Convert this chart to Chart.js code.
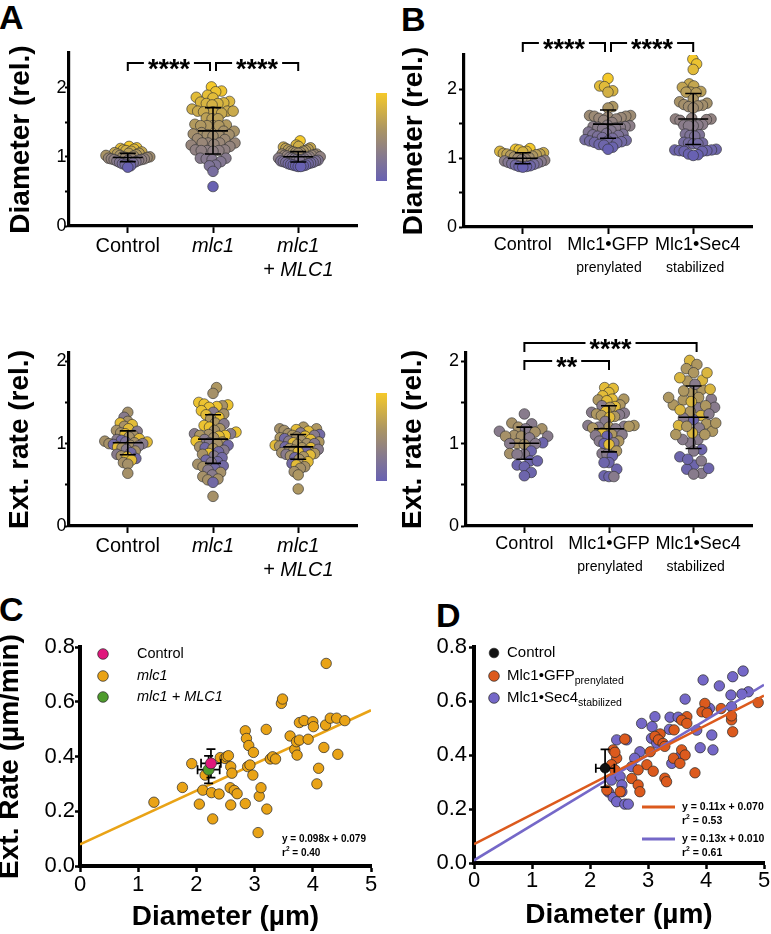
<!DOCTYPE html>
<html>
<head>
<meta charset="utf-8">
<title>Mlc1 diameter and extension rate</title>
<script src="https://cdn.jsdelivr.net/npm/chart.js@4.4.1/dist/chart.umd.min.js"></script>
<style>
  html, body { margin: 0; padding: 0; background: #ffffff; }
  body { position: relative; width: 771px; height: 934px; overflow: hidden; font-family: "Liberation Sans", Arial, sans-serif; }
  canvas { position: absolute; }
  .panel { position: absolute; font-weight: bold; font-size: 34px; line-height: 34px; color: #000; }
</style>
</head>
<body>
<div class="panel" style="left:-1px; top:0px;">A</div>
<div class="panel" style="left:401px; top:2px;">B</div>
<div class="panel" style="left:-1px; top:592px;">C</div>
<div class="panel" style="left:436px; top:598px;">D</div>
<canvas id="chartA1" width="390" height="290" style="left:0px; top:0px;"></canvas>
<canvas id="chartB1" width="381" height="290" style="left:390px; top:0px;"></canvas>
<canvas id="chartA2" width="390" height="290" style="left:0px; top:300px;"></canvas>
<canvas id="chartB2" width="381" height="290" style="left:390px; top:300px;"></canvas>
<canvas id="chartC" width="390" height="334" style="left:0px; top:600px;"></canvas>
<canvas id="chartD" width="381" height="334" style="left:390px; top:600px;"></canvas>
<script>
// ===================== DATA =====================
const catsA = [['Control'], ['mlc1'], ['mlc1', '+ MLC1']];
const italicA = [false, true, true];
const catsB = ['Control', 'Mlc1•GFP', 'Mlc1•Sec4'];
const subB = ['', 'prenylated', 'stabilized'];

// Panel A, top: diameter (rel.)
const diamA_control = [1.15, 1.13, 1.12, 1.11, 1.10, 1.09, 1.08, 1.07, 1.06, 1.05, 1.05, 1.04, 1.03, 1.02, 1.02, 1.01, 1.00, 1.00, 0.99, 0.99, 0.98, 0.98, 0.97, 0.97, 0.96, 0.96, 0.95, 0.95, 0.94, 0.93, 0.92, 0.91, 0.90, 0.89, 0.87, 0.85];
const diamA_mlc1 = [2.01, 1.95, 1.94, 1.89, 1.86, 1.85, 1.80, 1.79, 1.78, 1.77, 1.77, 1.75, 1.69, 1.66, 1.66, 1.66, 1.65, 1.65, 1.63, 1.56, 1.55, 1.55, 1.47, 1.46, 1.45, 1.45, 1.45, 1.45, 1.37, 1.37, 1.35, 1.33, 1.32, 1.32, 1.31, 1.30, 1.26, 1.25, 1.20, 1.20, 1.20, 1.20, 1.18, 1.17, 1.15, 1.10, 1.10, 1.09, 1.09, 1.09, 1.08, 0.98, 0.98, 0.97, 0.96, 0.93, 0.88, 0.87, 0.79, 0.57];
const diamA_rescue = [1.23, 1.17, 1.15, 1.14, 1.13, 1.12, 1.11, 1.10, 1.09, 1.08, 1.08, 1.07, 1.06, 1.06, 1.05, 1.04, 1.04, 1.03, 1.02, 1.02, 1.01, 1.00, 1.00, 0.99, 0.99, 0.98, 0.98, 0.97, 0.97, 0.96, 0.96, 0.95, 0.95, 0.94, 0.94, 0.93, 0.92, 0.92, 0.91, 0.90, 0.90, 0.89, 0.88, 0.88, 0.87, 0.87, 0.86, 0.86];
const diamA_mean = [0.99, 1.375, 1.00];
const diamA_sd = [0.06, 0.335, 0.075];

// Panel B, top: diameter (rel.)
const diamB_control = [1.14, 1.13, 1.12, 1.10, 1.10, 1.09, 1.08, 1.07, 1.06, 1.06, 1.05, 1.04, 1.03, 1.02, 1.01, 1.00, 0.99, 0.98, 0.97, 0.96, 0.95, 0.94, 0.93, 0.92, 0.91, 0.90, 0.89, 0.88, 0.88, 0.87];
const diamB_gfp = [2.16, 2.05, 2.04, 1.98, 1.96, 1.75, 1.73, 1.62, 1.62, 1.61, 1.61, 1.60, 1.59, 1.58, 1.57, 1.55, 1.52, 1.48, 1.47, 1.46, 1.46, 1.45, 1.45, 1.44, 1.43, 1.40, 1.38, 1.36, 1.35, 1.34, 1.33, 1.32, 1.30, 1.29, 1.27, 1.26, 1.25, 1.25, 1.24, 1.23, 1.22, 1.20, 1.19, 1.16, 1.13];
const diamB_sec4 = [2.44, 2.37, 2.29, 2.08, 2.05, 2.03, 1.97, 1.96, 1.96, 1.95, 1.86, 1.82, 1.80, 1.78, 1.77, 1.76, 1.75, 1.73, 1.58, 1.57, 1.57, 1.56, 1.55, 1.49, 1.48, 1.48, 1.47, 1.47, 1.35, 1.34, 1.33, 1.32, 1.23, 1.22, 1.22, 1.21, 1.21, 1.13, 1.12, 1.12, 1.11, 1.11, 1.10, 1.10, 1.06, 1.05, 1.04];
const diamB_mean = [1.00, 1.495, 1.57];
const diamB_sd = [0.08, 0.205, 0.37];

// Panel A, bottom: extension rate (rel.) and colour tone (0 = small cell, 1 = large cell)
const rateA_control = [1.38, 1.32, 1.27, 1.25, 1.23, 1.21, 1.18, 1.16, 1.15, 1.13, 1.12, 1.10, 1.08, 1.06, 1.05, 1.04, 1.03, 1.02, 1.02, 1.01, 1.00, 1.00, 0.99, 0.98, 0.97, 0.96, 0.95, 0.93, 0.91, 0.89, 0.87, 0.85, 0.84, 0.82, 0.80, 0.77, 0.75, 0.64];
const toneA_control = [.55, .3, .55, .9, .9, .55, .9, .55, .3, .55, .9, .55, .55, .9, .3, .1, .55, .2, .9, .55, .3, .55, .1, .55, .3, .9, .55, .3, .55, .1, .3, .55, .9, .1, .9, .55, .55, .55];
const rateA_mlc1 = [1.68, 1.61, 1.50, 1.48, 1.47, 1.46, 1.45, 1.44, 1.40, 1.38, 1.36, 1.35, 1.32, 1.30, 1.25, 1.24, 1.22, 1.20, 1.18, 1.16, 1.14, 1.12, 1.12, 1.11, 1.10, 1.10, 1.09, 1.07, 1.05, 1.03, 1.02, 1.01, 1.00, 0.98, 0.96, 0.95, 0.94, 0.92, 0.90, 0.88, 0.87, 0.85, 0.83, 0.80, 0.78, 0.77, 0.75, 0.73, 0.72, 0.70, 0.68, 0.65, 0.62, 0.60, 0.57, 0.56, 0.53, 0.36];
const toneA_mlc1 = [.6, .55, .95, .95, .95, .55, .95, .95, .95, .3, .55, .9, .95, .6, .6, .3, .95, .95, .6, .55, .95, .3, .3, .55, .95, .6, .9, .55, .3, .95, .6, .3, .55, .1, .55, .1, .6, .3, .1, .95, .55, .3, .1, .1, .1, .3, .55, .1, .55, .1, .3, .55, .3, .55, .55, .55, .1, .55];
const rateA_rescue = [1.20, 1.18, 1.18, 1.17, 1.16, 1.15, 1.13, 1.12, 1.11, 1.10, 1.10, 1.09, 1.08, 1.07, 1.06, 1.05, 1.04, 1.03, 1.02, 1.01, 1.00, 1.00, 0.99, 0.98, 0.97, 0.96, 0.95, 0.95, 0.94, 0.93, 0.92, 0.91, 0.90, 0.89, 0.88, 0.87, 0.86, 0.85, 0.84, 0.83, 0.81, 0.78, 0.76, 0.74, 0.72, 0.70, 0.66, 0.62, 0.45];
const toneA_rescue = [.6, .6, .55, .9, .55, .9, .3, .55, .1, .6, .3, .9, .55, .6, .1, .9, .55, .3, .6, .9, .55, .3, .6, .9, .55, .1, .6, .9, .55, .3, .6, .1, .9, .55, .6, .3, .9, .55, .6, .1, .55, .9, .1, .9, .55, .55, .55, .6, .6];
const rateA_mean = [1.01, 1.055, 0.96];
const rateA_sd = [0.145, 0.295, 0.15];

// Panel B, bottom: extension rate (rel.) and colour tone
const rateB_control = [1.36, 1.25, 1.24, 1.20, 1.18, 1.18, 1.15, 1.14, 1.10, 1.09, 1.09, 1.09, 1.07, 1.01, 1.00, 1.00, 1.00, 0.99, 0.91, 0.88, 0.87, 0.87, 0.79, 0.79, 0.74, 0.72, 0.65, 0.61];
const toneB_control = [.3, .55, .3, .55, .3, .55, .3, .55, .55, .55, .55, .3, .3, .05, .55, .3, .3, .55, .05, .55, .3, .3, .05, .05, .05, .05, .05, .05];
const rateB_gfp = [1.68, 1.67, 1.62, 1.58, 1.54, 1.54, 1.53, 1.52, 1.47, 1.46, 1.45, 1.44, 1.39, 1.38, 1.37, 1.36, 1.35, 1.34, 1.33, 1.32, 1.27, 1.22, 1.22, 1.21, 1.21, 1.20, 1.20, 1.19, 1.18, 1.13, 1.11, 1.11, 1.10, 1.09, 1.03, 1.03, 1.01, 1.00, 0.99, 0.91, 0.88, 0.87, 0.85, 0.77, 0.77, 0.69, 0.61, 0.60, 0.60];
const toneB_gfp = [.9, .9, .9, .9, .9, .6, .6, .9, .6, .3, .9, .6, .9, .3, .3, .6, .3, .6, .6, .9, .3, .3, .6, .3, .6, .6, .3, .6, .3, .9, .6, .3, .3, .05, .3, .6, .3, .05, .9, .6, .3, .3, .05, .05, .05, .05, .05, .05, .3];
const rateB_sec4 = [1.66, 1.54, 1.44, 1.34, 1.24, 1.15, 1.05, 0.64, 2.01, 1.91, 1.77, 1.62, 1.53, 1.44, 1.29, 1.19, 1.01, 0.84, 0.74, 1.96, 1.86, 1.76, 1.66, 1.56, 1.47, 1.39, 1.31, 1.22, 1.11, 0.93, 0.91, 0.79, 0.69, 1.86, 1.72, 1.56, 1.46, 1.36, 1.25, 1.13, 1.05, 0.81, 0.70, 1.80, 1.64, 1.51, 1.41, 1.21, 1.11, 0.63];
const toneB_sec4 = [.6, .3, .3, .85, .6, .6, .3, .3, .85, .6, .85, .6, .6, .3, .05, .3, .3, .05, .05, .6, .6, .6, .85, .6, .6, .6, .3, .85, .6, .05, .3, .3, .05, .85, .3, .6, .6, .3, .6, .85, .3, .05, .05, .85, .6, .85, .85, .6, .6, .3];
const rateB_mean = [1.005, 1.18, 1.32];
const rateB_sd = [0.195, 0.28, 0.38];

// Panel C: extension rate (µm/min) vs diameter (µm)
const mlc1C_x = [1.27, 1.76, 1.92, 2.05, 2.11, 2.15, 2.26, 2.28, 2.39, 2.41, 2.49, 2.52, 2.55, 2.58, 2.59, 2.59, 2.61, 2.65, 2.70, 2.84, 2.84, 2.86, 2.88, 2.90, 2.92, 2.97, 2.98, 3.06, 3.08, 3.11, 3.20, 3.21, 3.27, 3.31, 3.36, 3.46, 3.48, 3.61, 3.69, 3.72, 3.73, 3.77, 3.77, 3.85, 3.92, 4.00, 4.01, 4.07, 4.10, 4.19, 4.22, 4.23, 4.30, 4.41, 4.43, 4.55];
const mlc1C_y = [0.233, 0.287, 0.374, 0.226, 0.277, 0.332, 0.268, 0.172, 0.263, 0.396, 0.393, 0.399, 0.403, 0.286, 0.363, 0.223, 0.339, 0.276, 0.264, 0.494, 0.228, 0.466, 0.363, 0.440, 0.369, 0.332, 0.415, 0.122, 0.255, 0.286, 0.499, 0.208, 0.391, 0.399, 0.391, 0.594, 0.610, 0.475, 0.426, 0.454, 0.405, 0.460, 0.524, 0.531, 0.463, 0.527, 0.509, 0.300, 0.357, 0.433, 0.515, 0.740, 0.540, 0.540, 0.408, 0.531];
const sumC_labels = ['Control', 'mlc1 + MLC1'];
const sumC_x = [2.25, 2.21];
const sumC_y = [0.375, 0.352];
const sumC_xsd = [0.17, 0.19];
const sumC_ysd = [0.052, 0.05];
const fitC_m = [0.098];
const fitC_b = [0.079];
const fitC_r2 = [0.40];
const legendC = ['Control', 'mlc1', 'mlc1 + MLC1'];
const legendC_italic = [false, true, true];

// Panel D
const gfpD_x = [4.90, 3.98, 3.93, 4.02, 4.26, 4.44, 4.44, 4.46, 3.67, 3.58, 3.67, 3.45, 3.21, 3.12, 3.18, 3.26, 3.29, 2.60, 2.40, 3.04, 3.58, 3.64, 3.44, 3.55, 3.81, 2.46, 2.37, 2.43, 2.98, 2.83, 3.09, 2.72, 3.29, 3.32, 2.83, 2.86, 2.29, 2.52, 2.43];
const gfpD_y = [0.594, 0.591, 0.560, 0.555, 0.572, 0.530, 0.545, 0.486, 0.542, 0.529, 0.517, 0.493, 0.478, 0.469, 0.456, 0.443, 0.432, 0.459, 0.419, 0.412, 0.419, 0.400, 0.388, 0.369, 0.334, 0.388, 0.364, 0.345, 0.364, 0.345, 0.340, 0.313, 0.314, 0.301, 0.289, 0.264, 0.270, 0.264, 0.410];
const sec4D_x = [4.64, 4.46, 3.95, 4.23, 4.73, 4.62, 4.43, 3.64, 4.44, 4.06, 4.00, 3.12, 3.38, 3.52, 2.89, 3.07, 3.37, 3.84, 4.10, 3.06, 2.63, 2.46, 3.15, 3.90, 4.12, 2.86, 2.77, 3.55, 3.41, 2.72, 2.37, 2.52, 2.55, 2.55, 2.32, 2.40, 2.46, 2.60, 2.66];
const sec4D_y = [0.711, 0.690, 0.678, 0.656, 0.634, 0.626, 0.622, 0.607, 0.579, 0.573, 0.565, 0.542, 0.540, 0.540, 0.517, 0.505, 0.495, 0.492, 0.474, 0.462, 0.456, 0.456, 0.444, 0.427, 0.419, 0.412, 0.388, 0.394, 0.369, 0.357, 0.307, 0.320, 0.289, 0.264, 0.263, 0.243, 0.227, 0.218, 0.218];
const sumD_x = [2.26];
const sumD_y = [0.351];
const sumD_xsd = [0.16];
const sumD_ysd = [0.07];
const fitD_m = [0.11, 0.13];
const fitD_b = [0.070, 0.010];
const fitD_r2 = [0.53, 0.61];
const legendD_main = ['Control', 'Mlc1•GFP', 'Mlc1•Sec4'];
const legendD_sub = ['', 'prenylated', 'stabilized'];

// ===================== HELPERS =====================
const FONT = '"Liberation Sans", Arial, Helvetica, sans-serif';
Chart.defaults.font.family = FONT;
Chart.defaults.color = '#000';

const COL_ORANGE_C = '#e9a316';
const COL_PINK = '#e0177c';
const COL_GREEN = '#4e9b2d';
const COL_ORANGE_D = '#dc5a1d';
const COL_PURPLE_D = '#7568c8';

const TONE_STOPS = [[0, [104, 97, 178]], [0.3, [136, 123, 140]], [0.58, [170, 148, 100]], [1, [245, 201, 42]]];
function toneColor(t) {
  t = Math.max(0, Math.min(1, t));
  for (let i = 1; i < TONE_STOPS.length; i++) {
    if (t <= TONE_STOPS[i][0] + 1e-9) {
      const t0 = TONE_STOPS[i - 1][0], c0 = TONE_STOPS[i - 1][1], t1 = TONE_STOPS[i][0], c1 = TONE_STOPS[i][1];
      const f = (t - t0) / (t1 - t0);
      return 'rgb(' + c0.map((c, k) => Math.round(c + (c1[k] - c) * f)).join(',') + ')';
    }
  }
  return 'rgb(245,201,42)';
}
function normTones(vals) {
  const mn = Math.min(...vals), mx = Math.max(...vals);
  return vals.map(v => (v - mn) / (mx - mn));
}

// deterministic beeswarm: horizontal pixel offsets from the pixel y of each value
function swarmOffsets(py, d) {
  const idx = py.map((y, i) => i).sort((a, b) => py[b] - py[a]);
  const placed = [];
  const out = new Array(py.length).fill(0);
  let flip = false;
  for (const i of idx) {
    const y = py[i];
    const cands = [0];
    for (const q of placed) {
      const dy = Math.abs(q.y - y);
      if (dy < d) { const dx = Math.sqrt(d * d - dy * dy); cands.push(q.x + dx, q.x - dx); }
    }
    cands.sort((a, b) => (Math.abs(a) - Math.abs(b)) || (flip ? b - a : a - b));
    flip = !flip;
    let best = 0;
    for (const c of cands) {
      if (placed.every(q => (q.x - c) * (q.x - c) + (q.y - y) * (q.y - y) >= d * d - 1e-6)) { best = c; break; }
    }
    placed.push({ x: best, y });
    out[i] = best;
  }
  return out;
}

function drawSwarmDeco(chart, cfg) {
  const ctx = chart.ctx, xs = chart.scales.x, ys = chart.scales.y;
  ctx.save();
  ctx.strokeStyle = '#000';
  ctx.lineWidth = 1.6;
  cfg.mean.forEach((m, g) => {
    const cx = xs.getPixelForValue(g);
    const ym = ys.getPixelForValue(m), yt = ys.getPixelForValue(m + cfg.sd[g]), yb = ys.getPixelForValue(m - cfg.sd[g]);
    ctx.beginPath();
    ctx.moveTo(cx - 15, ym); ctx.lineTo(cx + 15, ym);
    ctx.moveTo(cx, yt); ctx.lineTo(cx, yb);
    ctx.moveTo(cx - 8, yt); ctx.lineTo(cx + 8, yt);
    ctx.moveTo(cx - 8, yb); ctx.lineTo(cx + 8, yb);
    ctx.stroke();
  });
  (cfg.brackets || []).forEach(b => {
    const x1 = xs.getPixelForValue(b.from) + (b.in1 || 0);
    const x2 = xs.getPixelForValue(b.to) + (b.in2 || 0);
    ctx.font = 'bold 27px ' + FONT;
    const tw = ctx.measureText(b.text).width;
    const xm = (x1 + x2) / 2;
    ctx.lineWidth = 2;
    ctx.strokeStyle = '#000';
    ctx.beginPath();
    ctx.moveTo(x1, b.y + b.drop); ctx.lineTo(x1, b.y); ctx.lineTo(xm - tw / 2 - 4, b.y);
    ctx.moveTo(xm + tw / 2 + 4, b.y); ctx.lineTo(x2, b.y); ctx.lineTo(x2, b.y + b.drop);
    ctx.stroke();
    ctx.fillStyle = '#000';
    ctx.textAlign = 'center';
    ctx.textBaseline = 'alphabetic';
    ctx.fillText(b.text, xm, b.y + 15);
  });
  if (cfg.sub) {
    ctx.font = '14px ' + FONT;
    ctx.fillStyle = '#000';
    ctx.textAlign = 'center';
    ctx.textBaseline = 'middle';
    cfg.sub.forEach((s, g) => { if (s) ctx.fillText(s, xs.getPixelForValue(g) + (cfg.subShift ? cfg.subShift[g] : 0), cfg.subY); });
  }
  if (cfg.colorbar) {
    const cb = cfg.colorbar;
    const gr = ctx.createLinearGradient(0, cb.y2, 0, cb.y1);
    TONE_STOPS.forEach(s => gr.addColorStop(s[0], toneColor(s[0])));
    ctx.fillStyle = gr;
    ctx.fillRect(cb.x, cb.y1, cb.w, cb.y2 - cb.y1);
  }
  ctx.restore();
}

function catLabel(cfg, v) {
  const lab = cfg.cats[v];
  if (cfg.lead && cfg.lead[v]) return '\u2002' + lab;
  return lab;
}

function makeSwarmChart(cfg) {
  const cv = document.getElementById(cfg.id);
  const W = cv.width, H = cv.height;
  const deco = { id: 'deco', afterDatasetsDraw(chart) { drawSwarmDeco(chart, cfg); } };
  const chart = new Chart(cv, {
    type: 'scatter',
    data: {
      datasets: cfg.groups.map((vals, g) => ({
        label: cfg.names[g],
        data: vals.map(v => ({ x: g, y: v })),
        backgroundColor: cfg.tones[g].map(toneColor),
        borderColor: 'rgba(50,50,50,0.9)',
        borderWidth: 0.7,
        pointRadius: 5.3,
        pointHoverRadius: 5.3
      }))
    },
    options: {
      responsive: false, animation: false, events: [],
      layout: { padding: { left: 0, top: cfg.area.t, right: W - cfg.area.r, bottom: 0 } },
      plugins: { legend: { display: false }, tooltip: { enabled: false } },
      scales: {
        x: {
          type: 'linear', min: -0.69, max: 2.69,
          afterFit: s => { s.height = H - cfg.area.b; },
          afterBuildTicks: s => { s.ticks = cfg.cats.map((c, i) => ({ value: i })); },
          ticks: {
            autoSkip: false, maxRotation: 0, minRotation: 0, padding: cfg.catPad, color: '#000',
            callback: v => catLabel(cfg, v),
            font: c => ({ family: FONT, size: cfg.catSize, style: (cfg.italic && cfg.italic[c.index]) ? 'italic' : 'normal', lineHeight: 1.2 })
          },
          grid: { drawOnChartArea: false, drawTicks: true, tickLength: 7, tickWidth: 2, tickColor: '#000' },
          border: { display: true, color: '#000', width: 3.2 }
        },
        y: {
          min: 0, max: cfg.yMax,
          afterFit: s => { s.width = cfg.area.l; },
          afterBuildTicks: s => { s.ticks = [0, 0.5, 1, 1.5, 2].map(v => ({ value: v })); },
          ticks: { padding: cfg.yTickPad, color: '#000', font: { family: FONT, size: 18 }, callback: v => Number.isInteger(v) ? String(v) : '' },
          grid: { drawOnChartArea: false, drawTicks: true, tickLength: cfg.yTickLen, tickWidth: 2, tickColor: '#000' },
          border: { display: true, color: '#000', width: 3.2 },
          title: { display: true, text: cfg.yTitle, color: '#000', font: { family: FONT, size: 28, weight: 'bold', lineHeight: 1.2 }, padding: { top: cfg.yTitlePad, bottom: 0 } }
        }
      }
    },
    plugins: [deco]
  });
  const xs = chart.scales.x, ys = chart.scales.y;
  const ppu = xs.getPixelForValue(1) - xs.getPixelForValue(0);
  cfg.groups.forEach((vals, g) => {
    const offs = swarmOffsets(vals.map(v => ys.getPixelForValue(v)), cfg.d);
    const mx = Math.max(...offs.map(Math.abs));
    const k = mx > 0 ? cfg.halfWidth / mx : 1;
    chart.data.datasets[g].data = vals.map((v, i) => ({ x: g + offs[i] * k / ppu, y: v }));
  });
  chart.update('none');
  return chart;
}

// ===================== PANELS A / B =====================
makeSwarmChart({
  id: 'chartA1', names: ['Control', 'mlc1', 'mlc1 + MLC1'],
  groups: [diamA_control, diamA_mlc1, diamA_rescue],
  tones: [normTones(diamA_control), normTones(diamA_mlc1), normTones(diamA_rescue)],
  cats: catsA, italic: italicA, catSize: 20, catPad: 1,
  mean: diamA_mean, sd: diamA_sd, yMax: 2.5, yTitle: 'Diameter (rel.)', yTitlePad: 4,
  area: { l: 69, t: 53, r: 357, b: 226 }, yTickLen: 4, yTickPad: -1.5, d: 7, halfWidth: 22,
  brackets: [{ from: 0, to: 1, in2: -3, y: 63, drop: 8, text: '****' }, { from: 1, to: 2, in1: 3, y: 63, drop: 8, text: '****' }],
  colorbar: { x: 376, w: 11, y1: 93, y2: 181 }
});
makeSwarmChart({
  id: 'chartB1', names: catsB,
  groups: [diamB_control, diamB_gfp, diamB_sec4],
  tones: [normTones(diamB_control), normTones(diamB_gfp), normTones(diamB_sec4)],
  cats: catsB, lead: [false, false, true], catSize: 18, catPad: 0, sub: subB, subY: 268, subShift: [0, 1, 2],
  mean: diamB_mean, sd: diamB_sd, yMax: 2.5, yTitle: 'Diameter (rel.)', yTitlePad: 7,
  area: { l: 74, t: 55, r: 362, b: 227 }, yTickLen: 5, yTickPad: 2, d: 8, halfWidth: 23,
  brackets: [{ from: 0, to: 1, in2: -3, y: 43, drop: 9, text: '****' }, { from: 1, to: 2, in1: 3, y: 43, drop: 9, text: '****' }]
});
makeSwarmChart({
  id: 'chartA2', names: ['Control', 'mlc1', 'mlc1 + MLC1'],
  groups: [rateA_control, rateA_mlc1, rateA_rescue],
  tones: [toneA_control, toneA_mlc1, toneA_rescue],
  cats: catsA, italic: italicA, catSize: 20, catPad: 1,
  mean: rateA_mean, sd: rateA_sd, yMax: 2.1, yTitle: 'Ext. rate (rel.)', yTitlePad: 3,
  area: { l: 69, t: 53, r: 357, b: 226 }, yTickLen: 4, yTickPad: -1.5, d: 7.5, halfWidth: 23,
  colorbar: { x: 376, w: 11, y1: 93, y2: 181 }
});
makeSwarmChart({
  id: 'chartB2', names: catsB,
  groups: [rateB_control, rateB_gfp, rateB_sec4],
  tones: [toneB_control, toneB_gfp, toneB_sec4],
  cats: catsB, lead: [false, false, true], catSize: 18, catPad: 0, sub: subB, subY: 267, subShift: [0, 1, 2],
  mean: rateB_mean, sd: rateB_sd, yMax: 2.1, yTitle: 'Ext. rate (rel.)', yTitlePad: 6,
  area: { l: 76, t: 53, r: 362, b: 226 }, yTickLen: 5, yTickPad: 2, d: 9, halfWidth: 25,
  brackets: [{ from: 0, to: 2, in2: 3, y: 43, drop: 9, text: '****' }, { from: 0, to: 1, y: 61, drop: 9, text: '**' }]
});

// ===================== PANELS C / D =====================
function drawErrorBars(chart, xsArr, ysArr, xsd, ysd) {
  const ctx = chart.ctx, sx = chart.scales.x, sy = chart.scales.y;
  ctx.save();
  ctx.strokeStyle = '#000';
  ctx.lineWidth = 1.7;
  xsArr.forEach((x, i) => {
    const px = sx.getPixelForValue(x), py = sy.getPixelForValue(ysArr[i]);
    const x1 = sx.getPixelForValue(x - xsd[i]), x2 = sx.getPixelForValue(x + xsd[i]);
    const y1 = sy.getPixelForValue(ysArr[i] + ysd[i]), y2 = sy.getPixelForValue(ysArr[i] - ysd[i]);
    ctx.beginPath();
    ctx.moveTo(x1, py); ctx.lineTo(x2, py);
    ctx.moveTo(x1, py - 4.5); ctx.lineTo(x1, py + 4.5);
    ctx.moveTo(x2, py - 4.5); ctx.lineTo(x2, py + 4.5);
    ctx.moveTo(px, y1); ctx.lineTo(px, y2);
    ctx.moveTo(px - 4.5, y1); ctx.lineTo(px + 4.5, y1);
    ctx.moveTo(px - 4.5, y2); ctx.lineTo(px + 4.5, y2);
    ctx.stroke();
  });
  ctx.restore();
}

function drawEquation(ctx, x, y, m, b, r2, size) {
  ctx.save();
  ctx.fillStyle = '#000';
  ctx.textAlign = 'left';
  ctx.textBaseline = 'middle';
  ctx.font = 'bold ' + size + 'px ' + FONT;
  ctx.fillText('y = ' + m.toPrecision(2) + 'x + ' + b.toFixed(3), x, y);
  const y2 = y + 14;
  ctx.fillText('r', x, y2);
  const rw = ctx.measureText('r').width;
  ctx.font = 'bold ' + (size * 0.65) + 'px ' + FONT;
  ctx.fillText('2', x + rw, y2 - 4);
  const sw = ctx.measureText('2').width;
  ctx.font = 'bold ' + size + 'px ' + FONT;
  ctx.fillText(' = ' + r2.toFixed(2), x + rw + sw, y2);
  ctx.restore();
}

function dot(ctx, x, y, r, fill) {
  ctx.beginPath();
  ctx.arc(x, y, r, 0, Math.PI * 2);
  ctx.fillStyle = fill;
  ctx.fill();
  ctx.lineWidth = 0.8;
  ctx.strokeStyle = 'rgba(40,40,40,0.9)';
  ctx.stroke();
}

function scatterScales(H, area, tickPadX, tickPadY, titlePadX, titlePadY, yTitle) {
  return {
    x: {
      type: 'linear', min: 0, max: 5,
      afterFit: s => { s.height = H - area.b; },
      afterBuildTicks: s => { s.ticks = [0, 1, 2, 3, 4, 5].map(v => ({ value: v })); },
      ticks: { padding: tickPadX, color: '#000', font: { family: FONT, size: 22 }, maxRotation: 0, autoSkip: false, callback: v => String(v) },
      grid: { drawOnChartArea: false, drawTicks: true, tickLength: 6, tickWidth: 2.5, tickColor: '#000' },
      border: { display: true, color: '#000', width: 4 },
      title: { display: true, text: 'Diameter (µm)', color: '#000', font: { family: FONT, size: 28, weight: 'bold', lineHeight: 1.2 }, padding: { top: 0, bottom: titlePadX } }
    },
    y: {
      min: 0, max: 0.8,
      afterFit: s => { s.width = area.l; },
      afterBuildTicks: s => { s.ticks = [0, 0.2, 0.4, 0.6, 0.8].map(v => ({ value: v })); },
      ticks: { padding: tickPadY, color: '#000', font: { family: FONT, size: 22 }, callback: v => v.toFixed(1) },
      grid: { drawOnChartArea: false, drawTicks: true, tickLength: 5, tickWidth: 2.5, tickColor: '#000' },
      border: { display: true, color: '#000', width: 4 },
      title: { display: !!yTitle, text: yTitle || '', color: '#000', font: { family: FONT, size: 28, weight: 'bold', lineHeight: 1.2 }, padding: { top: titlePadY, bottom: 0 } }
    }
  };
}

// ---- C ----
(function () {
  const cv = document.getElementById('chartC');
  const W = cv.width, H = cv.height;
  const area = { l: 80, t: 47, r: 371, b: 266 };
  const decoC = {
    id: 'decoC',
    afterDatasetDraw(chart, args) {
      if (args.index === 1) drawErrorBars(chart, sumC_x, sumC_y, sumC_xsd, sumC_ysd);
    },
    afterDatasetsDraw(chart) {
      const ctx = chart.ctx;
      const ds = chart.data.datasets;
      const legendY = [54, 76, 97];
      [0, 1, 2].forEach(i => {
        dot(ctx, 103, legendY[i], 5.3, ds[i].backgroundColor);
        ctx.save();
        ctx.fillStyle = '#000';
        ctx.textAlign = 'left';
        ctx.textBaseline = 'middle';
        ctx.font = (legendC_italic[i] ? 'italic ' : '') + '14.5px ' + FONT;
        ctx.fillText(legendC[i], 137, legendY[i]);
        ctx.restore();
      });
      drawEquation(ctx, 282, 239, fitC_m[0], fitC_b[0], fitC_r2[0], 10);
    }
  };
  new Chart(cv, {
    type: 'scatter',
    data: {
      datasets: [
        { label: sumC_labels[0], data: [{ x: sumC_x[0], y: sumC_y[0] }], backgroundColor: COL_PINK, borderColor: 'rgba(40,40,40,0.9)', borderWidth: 0.8, pointRadius: 5.5, order: 0 },
        { label: 'mlc1', data: mlc1C_x.map((x, i) => ({ x, y: mlc1C_y[i] })), backgroundColor: COL_ORANGE_C, borderColor: 'rgba(40,40,40,0.9)', borderWidth: 0.8, pointRadius: 5.2, order: 2 },
        { label: sumC_labels[1], data: [{ x: sumC_x[1], y: sumC_y[1] }], backgroundColor: COL_GREEN, borderColor: 'rgba(40,40,40,0.9)', borderWidth: 0.8, pointRadius: 5.5, order: 1 },
        { label: 'fit', data: [{ x: 0, y: fitC_b[0] }, { x: 5, y: fitC_m[0] * 5 + fitC_b[0] }], showLine: true, borderColor: COL_ORANGE_C, borderWidth: 2.6, pointRadius: 0, order: 3 }
      ]
    },
    options: {
      responsive: false, animation: false, events: [],
      layout: { padding: { left: 0, top: area.t, right: W - area.r, bottom: 0 } },
      plugins: { legend: { display: false }, tooltip: { enabled: false } },
      scales: scatterScales(H, area, 0, 0, 0, -7, 'Ext. Rate (µm/min)')
    },
    plugins: [decoC]
  });
})();

// ---- D ----
(function () {
  const cv = document.getElementById('chartD');
  const W = cv.width, H = cv.height;
  const area = { l: 84, t: 47, r: 374, b: 263 };
  const decoD = {
    id: 'decoD',
    afterDatasetDraw(chart, args) {
      if (args.index === 3) drawErrorBars(chart, sumD_x, sumD_y, sumD_xsd, sumD_ysd);
    },
    afterDatasetsDraw(chart) {
      const ctx = chart.ctx;
      const cols = ['#111111', COL_ORANGE_D, COL_PURPLE_D];
      const legendY = [53, 76, 98];
      [0, 1, 2].forEach(i => {
        dot(ctx, 104, legendY[i], i === 0 ? 4.8 : 5.3, cols[i]);
        ctx.save();
        ctx.fillStyle = '#000';
        ctx.textAlign = 'left';
        ctx.textBaseline = 'middle';
        ctx.font = '15px ' + FONT;
        ctx.fillText(legendD_main[i], 117, legendY[i]);
        if (legendD_sub[i]) {
          const w = ctx.measureText(legendD_main[i]).width;
          ctx.font = '10.5px ' + FONT;
          ctx.fillText(legendD_sub[i], 117 + w, legendY[i] + 5);
        }
        ctx.restore();
      });
      const lineCols = [COL_ORANGE_D, COL_PURPLE_D];
      const eqY = [207, 239];
      [0, 1].forEach(k => {
        ctx.save();
        ctx.strokeStyle = lineCols[k];
        ctx.lineWidth = 3;
        ctx.beginPath();
        ctx.moveTo(252, eqY[k]); ctx.lineTo(285, eqY[k]);
        ctx.stroke();
        ctx.restore();
        drawEquation(ctx, 292, eqY[k], fitD_m[k], fitD_b[k], fitD_r2[k], 10.5);
      });
    }
  };
  new Chart(cv, {
    type: 'scatter',
    data: {
      datasets: [
        { label: legendD_main[0], data: [{ x: sumD_x[0], y: sumD_y[0] }], backgroundColor: '#111111', borderColor: '#000', borderWidth: 0.8, pointRadius: 4.8, order: 0 },
        { label: legendD_main[1], data: gfpD_x.map((x, i) => ({ x, y: gfpD_y[i] })), backgroundColor: COL_ORANGE_D, borderColor: 'rgba(40,40,40,0.9)', borderWidth: 0.8, pointRadius: 5.2, order: 4 },
        { label: legendD_main[2], data: sec4D_x.map((x, i) => ({ x, y: sec4D_y[i] })), backgroundColor: COL_PURPLE_D, borderColor: 'rgba(40,40,40,0.9)', borderWidth: 0.8, pointRadius: 5.2, order: 5 },
        { label: 'fit GFP', data: [{ x: 0, y: fitD_b[0] }, { x: 5, y: fitD_m[0] * 5 + fitD_b[0] }], showLine: true, borderColor: COL_ORANGE_D, borderWidth: 2.6, pointRadius: 0, order: 1 },
        { label: 'fit Sec4', data: [{ x: 0, y: fitD_b[1] }, { x: 5, y: fitD_m[1] * 5 + fitD_b[1] }], showLine: true, borderColor: COL_PURPLE_D, borderWidth: 2.6, pointRadius: 0, order: 2 }
      ]
    },
    options: {
      responsive: false, animation: false, events: [],
      layout: { padding: { left: 0, top: area.t, right: W - area.r, bottom: 0 } },
      plugins: { legend: { display: false }, tooltip: { enabled: false } },
      scales: scatterScales(H, area, -1, 2, 2, 0, '')
    },
    plugins: [decoD]
  });
})();
</script>
</body>
</html>
